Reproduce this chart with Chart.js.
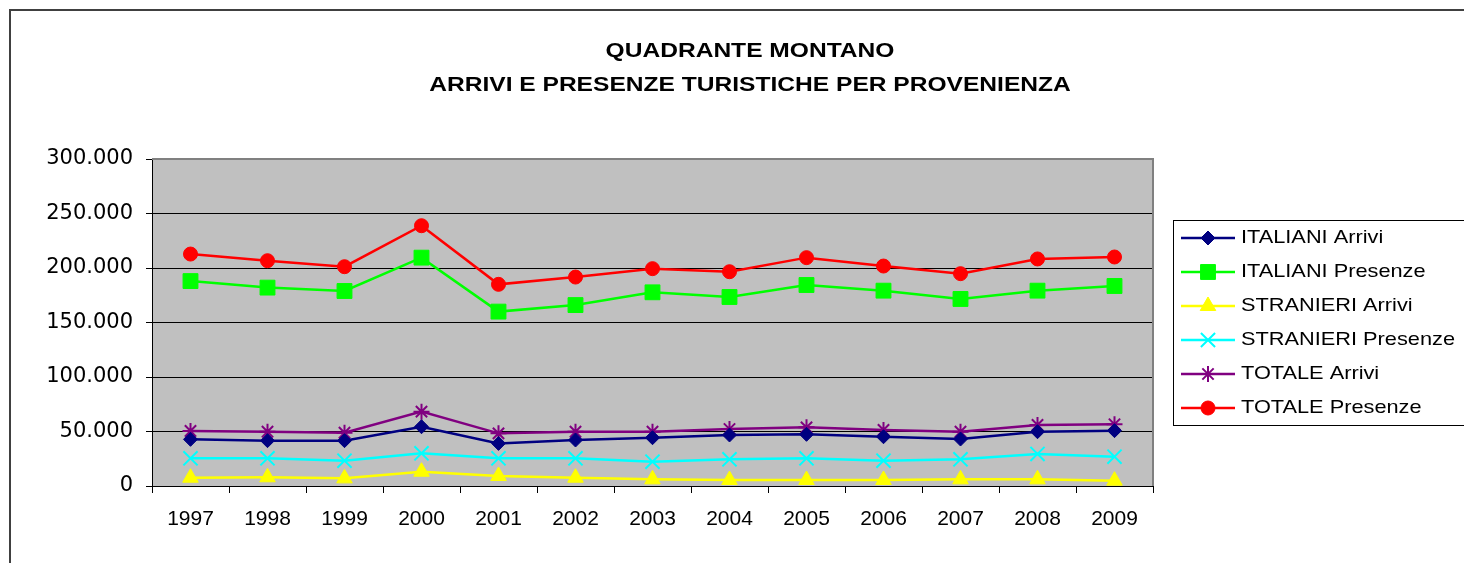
<!DOCTYPE html>
<html>
<head>
<meta charset="utf-8">
<script src="https://cdn.jsdelivr.net/npm/chart.js@4"></script>
<style>
    html, body { margin: 0; padding: 0; background: #fff; }
    canvas { display: block; }
</style>
</head>
<body>
<canvas id="chart" width="1464" height="563"></canvas>
<script>
/**
 * Quadrante Montano - arrivi e presenze turistiche
 */

const years = ['1997', '1998', '1999', '2000', '2001', '2002', '2003', '2004', '2005', '2006', '2007', '2008', '2009'];

const italianiArrivi = [42800, 41600, 41600, 54400, 39100, 42200, 44300, 46800, 47400, 45200, 43100, 49800, 50800];
const italianiPresenze = [188000, 182000, 178900, 209500, 160000, 166000, 177700, 173400, 184400, 179200, 171600, 179200, 183500];
const stranieriArrivi = [7600, 8000, 7000, 13100, 9200, 7600, 6100, 5500, 5500, 5500, 6100, 6100, 4900];
const stranieriPresenze = [25400, 25400, 23200, 30000, 25400, 25400, 22300, 24500, 25400, 23200, 24500, 29400, 26900];
const totaleArrivi = [50500, 49800, 48900, 68200, 48300, 49800, 49800, 52300, 53800, 51400, 49800, 56000, 56600];
const totalePresenze = [212800, 206700, 201200, 238800, 185000, 191700, 199400, 196600, 209500, 201800, 194800, 208300, 210100];

const titleLines = ['QUADRANTE MONTANO', 'ARRIVI E PRESENZE TURISTICHE PER PROVENIENZA'];

const seriesStyle = [
    { label: 'ITALIANI Arrivi', data: italianiArrivi, color: '#000080', style: 'rectRot', radius: 7, width: 1 },
    { label: 'ITALIANI Presenze', data: italianiPresenze, color: '#00FF00', style: 'rect', radius: 10.5, width: 1 },
    { label: 'STRANIERI Arrivi', data: stranieriArrivi, color: '#FFFF00', style: 'triangle', radius: 9, width: 1 },
    { label: 'STRANIERI Presenze', data: stranieriPresenze, color: '#00FFFF', style: 'crossRot', radius: 10, width: 2 },
    { label: 'TOTALE Arrivi', data: totaleArrivi, color: '#800080', style: 'star', radius: 8, width: 2 },
    { label: 'TOTALE Presenze', data: totalePresenze, color: '#FF0000', style: 'circle', radius: 7, width: 1 }
];

const fmt = v => String(v).replace(/\B(?=(\d{3})+(?!\d))/g, '.');

/**
 * Frame, plot background, title and legend
 */
const excelLook = {
    id: 'excelLook',
    beforeDraw(chart) {
        const { ctx, chartArea: a } = chart;
        ctx.save();
        ctx.fillStyle = '#fff';
        ctx.fillRect(0, 0, chart.width, chart.height);
        ctx.strokeStyle = '#404040';
        ctx.lineWidth = 2;
        ctx.beginPath();
        ctx.moveTo(10, chart.height + 5);
        ctx.lineTo(10, 10);
        ctx.lineTo(chart.width + 5, 10);
        ctx.stroke();
        ctx.fillStyle = '#C0C0C0';
        ctx.fillRect(a.left, a.top, a.right - a.left, a.bottom - a.top);
        ctx.restore();
    },
    beforeDatasetsDraw(chart) {
        const { ctx, chartArea: a } = chart;
        ctx.save();
        ctx.strokeStyle = '#808080';
        ctx.lineWidth = 2;
        ctx.beginPath();
        ctx.moveTo(a.left, a.top);
        ctx.lineTo(a.right, a.top);
        ctx.lineTo(a.right, a.bottom);
        ctx.stroke();
        ctx.restore();
    },
    afterDraw(chart) {
        const ctx = chart.ctx;
        ctx.save();
        ctx.fillStyle = '#000';
        ctx.textBaseline = 'middle';

        // title
        ctx.font = 'bold 21px "Liberation Sans", Arial, sans-serif';
        ctx.textAlign = 'center';
        [51, 85].forEach((y, i) => {
            ctx.save();
            ctx.translate(750, y);
            ctx.scale(1.17, 1);
            ctx.fillText(titleLines[i], 0, 0);
            ctx.restore();
        });

        // legend
        ctx.strokeStyle = '#000';
        ctx.lineWidth = 1;
        ctx.strokeRect(1173.5, 220.5, 300, 205);
        ctx.font = '18.6px "Liberation Sans", Arial, sans-serif';
        ctx.textAlign = 'left';
        seriesStyle.forEach((s, i) => {
            const y = 238 + i * 34;
            ctx.strokeStyle = s.color;
            ctx.lineWidth = 2.5;
            ctx.beginPath();
            ctx.moveTo(1181, y);
            ctx.lineTo(1235, y);
            ctx.stroke();
            ctx.fillStyle = s.color;
            ctx.lineWidth = s.width;
            Chart.helpers.drawPoint(ctx, { pointStyle: s.style, radius: s.radius, rotation: 0, borderWidth: s.width }, 1208, y);
            ctx.fillStyle = '#000';
            ctx.save();
            ctx.translate(1241, y);
            ctx.scale(1.17, 1);
            ctx.fillText(s.label, 0, 0);
            ctx.restore();
        });
        ctx.restore();
    }
};

new Chart(document.getElementById('chart'), {
    type: 'line',
    data: {
        labels: years,
        datasets: seriesStyle.map(s => ({
            label: s.label,
            data: s.data,
            borderColor: s.color,
            backgroundColor: s.color,
            borderWidth: 2.5,
            tension: 0,
            pointStyle: s.style,
            pointRadius: s.radius,
            pointBorderWidth: s.width,
            pointBackgroundColor: s.color,
            pointBorderColor: s.color
        }))
    },
    options: {
        responsive: false,
        animation: false,
        layout: { padding: { top: 159, right: 311, left: 0, bottom: 0 } },
        plugins: {
            legend: { display: false },
            title: { display: false },
            tooltip: { enabled: false }
        },
        scales: {
            x: {
                offset: true,
                afterFit: scale => { scale.height = 77; },
                grid: { offset: true, drawOnChartArea: false, tickLength: 7, color: '#000' },
                border: { color: '#000', width: 1 },
                ticks: {
                    color: '#000',
                    padding: 14,
                    maxRotation: 0,
                    font: { family: '"Liberation Sans", Arial, sans-serif', size: 21 }
                }
            },
            y: {
                min: 0,
                max: 300000,
                afterFit: scale => { scale.width = 152; },
                grid: { color: '#000', lineWidth: 1, tickLength: 6 },
                border: { color: '#000', width: 1 },
                ticks: {
                    stepSize: 50000,
                    color: '#000',
                    padding: 13,
                    font: { family: '"DejaVu Sans", sans-serif', size: 21 },
                    callback: v => fmt(v)
                }
            }
        }
    },
    plugins: [excelLook]
});
</script>
</body>
</html>
